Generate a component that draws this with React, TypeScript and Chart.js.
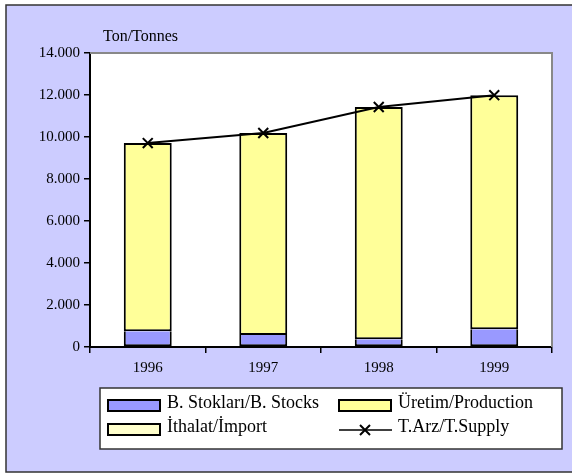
import React, { useEffect, useRef } from "react";
import { Chart, registerables } from "chart.js";

Chart.register(...registerables);

const years = ["1996", "1997", "1998", "1999"];
const stocks = [750, 570, 370, 840];
const production = [8960, 9620, 11060, 11150];
const imports = [0, 0, 0, 0];
const supply = [9710, 10190, 11430, 11990];

const labelStocks = "B. Stokları/B. Stocks";
const labelProduction = "Üretim/Production";
const labelImport = "İthalat/İmport";
const labelSupply = "T.Arz/T.Supply";
const unitTitle = "Ton/Tonnes";

const FONT = "'Liberation Serif', 'Times New Roman', serif";

const decor = {
  id: "decor",
  beforeDraw(chart: any) {
    const ctx = chart.ctx;
    ctx.save();
    ctx.fillStyle = "#ffffff";
    ctx.fillRect(0, 0, chart.width, chart.height);
    ctx.fillStyle = "#CCCCFF";
    ctx.fillRect(6, 5, 700, 467);
    ctx.strokeStyle = "#333333";
    ctx.lineWidth = 1.5;
    ctx.strokeRect(6, 5, 700, 467);
    const a = chart.chartArea;
    ctx.fillStyle = "#ffffff";
    ctx.fillRect(a.left, a.top, a.right - a.left, a.bottom - a.top);
    ctx.restore();
  },
  afterDraw(chart: any) {
    const ctx = chart.ctx;
    const a = chart.chartArea;
    ctx.save();
    ctx.strokeStyle = "#888888";
    ctx.lineWidth = 2;
    ctx.beginPath();
    ctx.moveTo(a.left, a.top);
    ctx.lineTo(a.right, a.top);
    ctx.lineTo(a.right, a.bottom);
    ctx.stroke();
    ctx.fillStyle = "#000000";
    ctx.font = `16px ${FONT}`;
    ctx.textBaseline = "alphabetic";
    ctx.textAlign = "left";
    ctx.fillText(unitTitle, 103, 41);
    ctx.fillStyle = "#ffffff";
    ctx.fillRect(100, 388, 462, 61);
    ctx.strokeStyle = "#333333";
    ctx.lineWidth = 1.5;
    ctx.strokeRect(100, 388, 462, 61);
    const items = [
      { x: 108, y: 400, label: labelStocks, color: "#9999FF", type: "box" },
      { x: 339, y: 400, label: labelProduction, color: "#FFFF99", type: "box" },
      { x: 108, y: 424, label: labelImport, color: "#FFFFCC", type: "box" },
      { x: 339, y: 424, label: labelSupply, color: "#000000", type: "line" },
    ];
    ctx.font = `18px ${FONT}`;
    for (const it of items) {
      if (it.type === "box") {
        ctx.fillStyle = it.color;
        ctx.fillRect(it.x, it.y, 52, 11);
        ctx.strokeStyle = "#000000";
        ctx.lineWidth = 2;
        ctx.strokeRect(it.x, it.y, 52, 11);
      } else {
        const cy = it.y + 6;
        ctx.strokeStyle = "#000000";
        ctx.lineWidth = 1.5;
        ctx.beginPath();
        ctx.moveTo(it.x, cy);
        ctx.lineTo(it.x + 53, cy);
        ctx.stroke();
        const cx = it.x + 26;
        ctx.lineWidth = 2;
        ctx.beginPath();
        ctx.moveTo(cx - 5, cy - 5);
        ctx.lineTo(cx + 5, cy + 5);
        ctx.moveTo(cx + 5, cy - 5);
        ctx.lineTo(cx - 5, cy + 5);
        ctx.stroke();
      }
      ctx.fillStyle = "#000000";
      ctx.fillText(it.label, it.x + 59, it.y + 8);
    }
    ctx.restore();
  },
};

export default function App() {
  const ref = useRef<HTMLCanvasElement | null>(null);
  useEffect(() => {
    if (!ref.current) return;
    const chart = new Chart(ref.current, {
      type: "bar",
      data: {
        labels: years,
        datasets: [
          {
            type: "line",
            label: labelSupply,
            data: supply,
            stack: "line",
            borderColor: "#000000",
            backgroundColor: "#000000",
            borderWidth: 2,
            pointStyle: "crossRot",
            pointRadius: 7,
            pointBorderWidth: 2,
            pointBorderColor: "#000000",
            tension: 0,
            order: 0,
          } as any,
          {
            label: labelStocks,
            data: stocks,
            stack: "a",
            backgroundColor: "#9999FF",
            borderColor: "#000000",
            borderWidth: 2,
            borderSkipped: "top",
            order: 1,
          },
          {
            label: labelProduction,
            data: production,
            stack: "a",
            backgroundColor: "#FFFF99",
            borderColor: "#000000",
            borderWidth: 2,
            borderSkipped: false,
            order: 1,
          },
          {
            label: labelImport,
            data: imports,
            stack: "a",
            backgroundColor: "#FFFFCC",
            borderColor: "#000000",
            borderWidth: 0,
            borderSkipped: false,
            order: 1,
          },
        ],
      },
      options: {
        animation: false,
        responsive: false,
        devicePixelRatio: 1,
        datasets: { bar: { barPercentage: 0.415, categoryPercentage: 1 } },
        layout: { padding: { left: 0, right: 20, top: 53, bottom: 96 } },
        plugins: { legend: { display: false }, tooltip: { enabled: false } },
        scales: {
          x: {
            stacked: true,
            offset: true,
            grid: {
              offset: true,
              drawOnChartArea: false,
              drawTicks: true,
              tickLength: 6,
              color: "#000000",
              lineWidth: 1.5,
            },
            border: { display: true, color: "#000000", width: 2 },
            ticks: { color: "#000000", font: { family: FONT, size: 15 }, padding: 6 },
            afterFit: (s: any) => {
              s.height = 30;
            },
          },
          y: {
            stacked: true,
            min: 0,
            max: 14000,
            grid: {
              drawOnChartArea: false,
              drawTicks: true,
              tickLength: 6,
              color: "#000000",
              lineWidth: 1.5,
            },
            border: { display: true, color: "#000000", width: 2 },
            ticks: {
              stepSize: 2000,
              color: "#000000",
              font: { family: FONT, size: 15 },
              padding: 4,
              callback: (v: any) => {
                const n = Number(v);
                return n === 0 ? "0" : n.toLocaleString("de-DE");
              },
            },
            afterFit: (s: any) => {
              s.width = 90;
            },
          },
        },
      },
      plugins: [decor],
    });
    return () => chart.destroy();
  }, []);
  return (
    <div style={{ position: "absolute", left: 0, top: 0, width: 572, height: 473 }}>
      <canvas ref={ref} width={572} height={473} style={{ display: "block" }} />
    </div>
  );
}
